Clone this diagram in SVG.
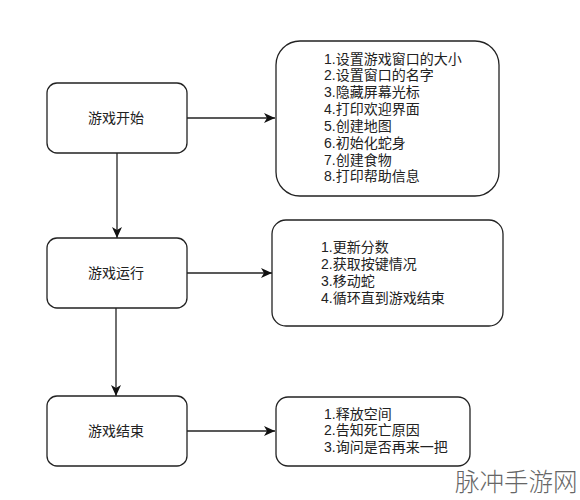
<svg xmlns="http://www.w3.org/2000/svg" width="580" height="500" viewBox="0 0 580 500">
<defs>
<marker id="arr" markerUnits="userSpaceOnUse" markerWidth="12" markerHeight="10" refX="11" refY="5" orient="auto"><path d="M0 0L11 5L0 10L3 5Z" fill="#111"/></marker>
</defs>
<style>
text{font-family:"Liberation Sans","Noto Sans CJK SC",sans-serif;font-size:14px;fill:#222}
rect{fill:#fff;stroke:#222;stroke-width:1.3}
.c{stroke:#222;stroke-width:1.3;fill:none;marker-end:url(#arr)}
.m{text-anchor:middle}
</style>
<rect width="580" height="500" style="fill:#fff;stroke:none"/>
<g id="connectors">
<path class="c" d="M117 153V238"/>
<path class="c" d="M187 118H275"/>
<path class="c" d="M187 273H272"/>
<path class="c" d="M116 308V396"/>
<path class="c" d="M187 431H275"/>
</g>
<g id="start"><rect x="47" y="83" width="140" height="70" rx="10"/><text class="m" x="116" y="123">游戏开始</text></g>
<g id="run"><rect x="47" y="238" width="140" height="70" rx="10"/><text class="m" x="116" y="278">游戏运行</text></g>
<g id="end"><rect x="47" y="396" width="140" height="70" rx="10"/><text class="m" x="116" y="436">游戏结束</text></g>
<g id="init"><rect x="276" y="41" width="223" height="155" rx="24"/>
<text x="324" y="64">1.设置游戏窗口的大小</text>
<text x="324" y="80">2.设置窗口的名字</text>
<text x="324" y="97">3.隐藏屏幕光标</text>
<text x="324" y="114">4.打印欢迎界面</text>
<text x="324" y="131">5.创建地图</text>
<text x="324" y="148">6.初始化蛇身</text>
<text x="324" y="165">7.创建食物</text>
<text x="324" y="181">8.打印帮助信息</text></g>
<g id="loop"><rect x="272" y="220" width="231" height="106" rx="14"/>
<text x="321" y="252">1.更新分数</text>
<text x="321" y="269">2.获取按键情况</text>
<text x="321" y="286">3.移动蛇</text>
<text x="321" y="303">4.循环直到游戏结束</text></g>
<g id="finish"><rect x="276" y="397" width="194" height="69" rx="12"/>
<text x="324" y="419">1.释放空间</text>
<text x="324" y="435">2.告知死亡原因</text>
<text x="324" y="452">3.询问是否再来一把</text></g>
<text id="watermark" x="455" y="491" style="font-size:24.5px;fill:#666;font-weight:300;font-family:'Noto Sans CJK SC',sans-serif">脉冲手游网</text>
</svg>
